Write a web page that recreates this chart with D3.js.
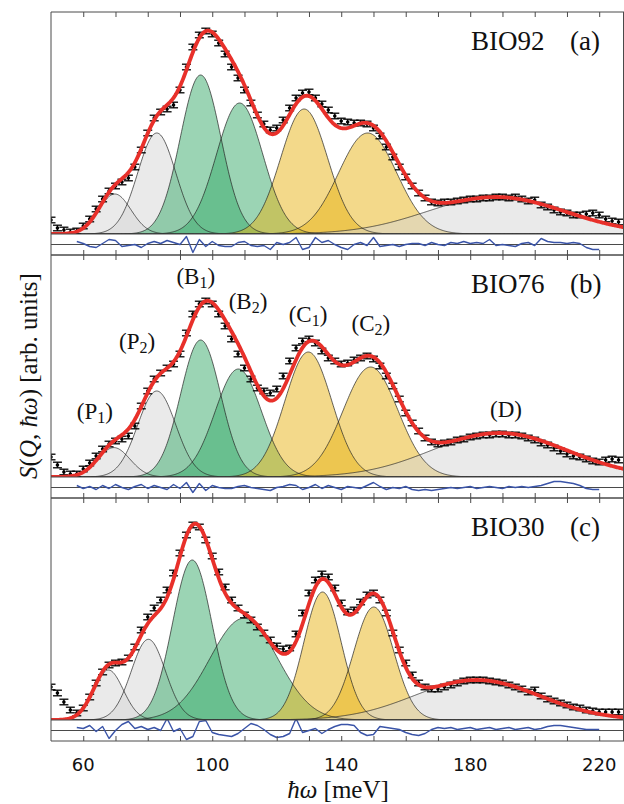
<!DOCTYPE html>
<html><head><meta charset="utf-8">
<script src="https://cdn.jsdelivr.net/npm/d3@7"></script>
<style>body{margin:0;background:#fff}</style>
</head><body><svg id="chart" width="624" height="804"></svg>
<script>
// ---------------- DATA ----------------
const energy = [50,52,54,56,58,60,62,64,66,68,70,72,74,76,78,80,82,84,86,88,90,92,94,96,98,100,102,104,106,108,110,112,114,116,118,120,122,124,126,128,130,132,134,136,138,140,142,144,146,148,150,152,154,156,158,160,162,164,166,168,170,172,174,176,178,180,182,184,186,188,190,192,194,196,198,200,202,204,206,208,210,212,214,216,218,220,222,224,226];

const intensityA = [14,6,4,2,3,8,15,25,35,43,
  48,52,56,67,84,101,116,122,125,129,
  144,167,187,199,203,200,191,180,167,156,
  144,131,119,110,104,106,114,126,136,141,
  142,136,130,124,118,113,112,111,111,110,
  106,98,87,77,67,57,48,41,36,32,
  31,32,32,33,34,35,35,36,36,37,
  37,36,37,35,33,34,29,27,24,22,
  21,19,19,20,21,19,15,13,12];
const intensityB = [20,12,5,3,3,8,14,21,28,33,
  36,38,41,51,71,86,98,104,109,113,
  123,144,163,173,176,173,163,151,138,123,
  109,98,89,86,84,88,101,116,129,136,
  138,134,126,119,116,113,114,117,119,121,
  118,111,101,91,78,64,54,46,39,35,
  33,34,35,37,38,40,41,42,42,43,
  43,42,42,41,39,37,34,32,29,26,
  23,21,20,18,16,15,17,18,17];
const intensityC = [33,27,18,10,7,12,23,37,48,55,
  57,58,62,73,90,103,112,120,130,147,
  167,185,195,193,180,164,148,133,120,112,
  105,100,93,87,80,74,71,72,86,107,
  127,140,146,143,132,117,108,110,118,125,
  127,120,107,87,70,57,45,37,33,31,
  31,33,35,37,39,40,40,40,39,38,
  37,35,33,31,28,30,24,21,19,17,
  15,13,12,10,9,8,8,8,8];
const errorBar = 2.8;

const residEnergy = [58,60,62,64,66,68,70,72,74,76,78,80,82,84,86,88,90,92,94,96,98,100,102,104,106,108,110,112,114,116,118,120,122,124,126,128,130,132,134,136,138,140,142,144,146,148,150,152,154,156,158,160,162,164,166,168,170,172,174,176,178,180,182,184,186,188,190,192,194,196,198,200,202,204,206,208,210,212,214,216,218,220];
const residualA = [3,1,-2,-3,1,5,4,-2,-1,0,
  -3,1,3,1,4,2,0,8,-8,5,
  -2,3,-1,-2,-2,2,3,-1,-2,-1,
  -5,2,0,2,7,-5,-3,7,2,4,
  0,-3,-5,0,2,-1,7,-2,-1,0,
  -2,0,1,1,-1,2,0,-1,2,1,
  3,1,2,1,5,-1,0,-1,-2,1,
  2,-1,6,3,2,2,1,2,1,-3,
  -5,-5];
const residualB = [2,-1,1,-2,2,-1,3,0,-2,1,
  3,-1,2,0,-2,3,-1,5,-5,4,
  -3,2,0,-1,-1,1,2,0,-1,-2,
  -3,0,1,3,2,-2,0,3,-1,2,
  0,-2,1,0,-1,2,5,1,-2,0,
  -1,1,-2,-3,-2,-3,-2,-1,0,-1,
  0,1,-1,0,1,0,-1,1,0,1,
  0,1,2,4,6,6,5,4,2,-1,
  -2,-2];
const residualC = [3,2,5,-1,4,-8,0,6,9,2,
  4,1,3,0,12,-1,2,-9,-6,9,
  10,-2,-4,-5,-6,-3,2,7,5,1,
  -4,-7,-6,-3,12,-2,0,2,-3,1,
  4,6,6,5,-2,-5,-4,4,3,2,
  1,-2,-4,-5,-3,1,3,2,3,1,
  2,3,1,2,3,1,2,3,1,2,
  3,1,2,4,5,5,4,3,2,1,
  1,1];

const componentNames = ["P1","P2","B1","B2","C1","C2","D"];
const componentKinds = ["gray","gray","green","green","yellow","yellow","gray"];
const centersA = [69.8, 82.8, 96.4, 108.5, 128.5, 148.2, 188];
const ampsA    = [40, 101, 159, 131, 125, 101, 37];
const widthsA  = [5.0, 5.9, 6.3, 7.2, 7.3, 9.0, 21.5];
const centersB = [69.5, 82.8, 96.4, 108.1, 129.8, 149.1, 189];
const ampsB    = [29.4, 86, 137, 108, 125, 110, 44];
const widthsB  = [5.0, 5.9, 6.2, 7.2, 7.3, 8.5, 21];
const centersC = [67.8, 80.2, 93.8, 109.8, 134.2, 150.1, 182];
const ampsC    = [50, 80.7, 160, 101.7, 128, 113, 40];
const widthsC  = [4.6, 5.3, 6.1, 10.5, 5.8, 6.2, 19.5];

const sampleNames = ["BIO92","BIO76","BIO30"];
const panelTags = ["(a)","(b)","(c)"];
const xTickLabels = [60,100,140,180,220];
const minorTicks = [60,70,80,90,100,110,120,130,140,150,160,170,180,190,200,210,220];

// label anchors (energy, intensity) for component names in panel (b)
const labelEnergy = [63.6, 76.7, 94.9, 111.1, 129.7, 149.2, 191.1];
const labelHeight = [58, 128, 193, 168, 155, 146, 60];

// ---------------- DRAWING ----------------
const panels = [
  {I:intensityA, R:residualA, c:centersA, a:ampsA, s:widthsA},
  {I:intensityB, R:residualB, c:centersB, a:ampsB, s:widthsB},
  {I:intensityC, R:residualC, c:centersC, a:ampsC, s:widthsC}
];
const svg = d3.select("#chart");
svg.append("rect").attr("width",624).attr("height",804).attr("fill","#fff");
const x = d3.scaleLinear().domain([50,228]).range([51,625]);
const panelTop = [12,255,498], mainH = 222, residH = 21;
const fillCol = {gray:"#d6d6d6", green:"#38aa6a", yellow:"#e8b416"};
const frameCol = "#4a4a4a";
const serif = "'Liberation Serif','Times New Roman',serif";
const grid = d3.range(50, 228.01, 0.25);

panels.forEach((p,i)=>{
  const top = panelTop[i], base = top+mainH, bot = base+residH;
  const y = d3.scaleLinear().domain([0,222]).range([base,top]);
  const yr = d3.scaleLinear().domain([-10.5,10.5]).range([bot,base]);
  const g = svg.append("g");
  const cid = "clipM"+i, rid = "clipR"+i;
  const defs = svg.append("defs");
  defs.append("clipPath").attr("id",cid).append("rect")
    .attr("x",51).attr("y",top).attr("width",574).attr("height",mainH);
  defs.append("clipPath").attr("id",rid).append("rect")
    .attr("x",51).attr("y",base).attr("width",574).attr("height",residH);
  const gm = g.append("g").attr("clip-path",`url(#${cid})`);
  const comps = p.c.map((c,k)=>({c, a:p.a[k], s:p.s[k], kind:componentKinds[k]}));
  const gauss = (cp,e)=>cp.a*Math.exp(-((e-cp.c)**2)/(2*cp.s*cp.s));
  comps.forEach(cp=>{
    gm.append("path").datum(grid)
      .attr("d", d3.area().x(e=>x(e)).y0(y(0)).y1(e=>y(gauss(cp,e))))
      .attr("fill", fillCol[cp.kind]).attr("fill-opacity",0.5).attr("stroke","none");
  });
  comps.forEach(cp=>{
    gm.append("path").datum(grid)
      .attr("d", d3.line().x(e=>x(e)).y(e=>y(gauss(cp,e))))
      .attr("fill","none").attr("stroke","#222").attr("stroke-width",0.7);
  });
  // data points with error bars
  const pts = energy.map((e,k)=>({e, v:p.I[k]}));
  const pg = gm.append("g").attr("stroke","#000").attr("stroke-width",1.3);
  pts.forEach(d=>{
    const cx = x(d.e), y1 = y(d.v+errorBar), y2 = y(d.v-errorBar);
    pg.append("line").attr("x1",cx).attr("x2",cx).attr("y1",y1).attr("y2",y2);
    pg.append("line").attr("x1",cx-4.5).attr("x2",cx+4.5).attr("y1",y1).attr("y2",y1);
    pg.append("line").attr("x1",cx-4.5).attr("x2",cx+4.5).attr("y1",y2).attr("y2",y2);
    pg.append("circle").attr("cx",cx).attr("cy",y(d.v)).attr("r",1.8).attr("fill","#000").attr("stroke","none");
  });
  // fit = sum of components
  gm.append("path").datum(grid)
    .attr("d", d3.line().x(e=>x(e)).y(e=>y(d3.sum(comps, cp=>gauss(cp,e)))))
    .attr("fill","none").attr("stroke","#e8302a").attr("stroke-width",3.8).attr("stroke-linejoin","round");
  // residual strip
  const gr = g.append("g").attr("clip-path",`url(#${rid})`);
  gr.append("line").attr("x1",51).attr("x2",625).attr("y1",yr(0)).attr("y2",yr(0))
    .attr("stroke",frameCol).attr("stroke-width",1);
  gr.append("path").datum(residEnergy.map((e,k)=>[e,p.R[k]]))
    .attr("d", d3.line().x(d=>x(d[0])).y(d=>yr(d[1])))
    .attr("fill","none").attr("stroke","#3a54a8").attr("stroke-width",1.4).attr("stroke-linejoin","round");
  // frame lines
  [top, base, bot].forEach(yy=>{
    g.append("line").attr("x1",51).attr("x2",625).attr("y1",yy).attr("y2",yy)
      .attr("stroke",frameCol).attr("stroke-width",1);
  });
  // ticks
  const at = g.append("g").attr("transform",`translate(0,${top})`)
    .call(d3.axisTop(x).tickValues(minorTicks).tickSize(-5).tickFormat(""));
  const ab = g.append("g").attr("transform",`translate(0,${bot})`)
    .call(d3.axisBottom(x).tickValues(minorTicks).tickSize(-5).tickFormat(""));
  [at,ab].forEach(a=>{ a.select(".domain").remove(); a.selectAll("line").attr("stroke",frameCol).attr("stroke-width",1); });
  // panel label
  g.append("text").attr("x",471).attr("y",top+38).attr("font-family",serif)
    .attr("font-size",27).attr("fill","#111").text(sampleNames[i]);
  g.append("text").attr("x",570).attr("y",top+38).attr("font-family",serif)
    .attr("font-size",27).attr("fill","#111").text(panelTags[i]);
  // component labels in panel (b)
  if(i===1){
    componentNames.forEach((nm,k)=>{
      const t = g.append("text").attr("x",x(labelEnergy[k])).attr("y",y(labelHeight[k]))
        .attr("text-anchor","middle").attr("font-family",serif).attr("font-size",23).attr("fill","#111");
      if(nm.length>1){
        t.append("tspan").text("("+nm[0]);
        t.append("tspan").attr("font-size",16).attr("dy",4).text(nm.slice(1));
        t.append("tspan").attr("dy",-4).text(")");
      } else {
        t.text("("+nm+")");
      }
    });
  }
});
// outer frame verticals
svg.append("line").attr("x1",51).attr("x2",51).attr("y1",12).attr("y2",741).attr("stroke",frameCol).attr("stroke-width",1);
svg.append("line").attr("x1",623.5).attr("x2",623.5).attr("y1",12).attr("y2",741).attr("stroke",frameCol).attr("stroke-width",1);

// x tick labels
svg.append("g").selectAll("text").data(xTickLabels).join("text")
  .attr("x",d=>x(d)).attr("y",771).attr("text-anchor","middle")
  .attr("font-family","'DejaVu Sans',sans-serif").attr("font-size",18).attr("fill","#111").text(d=>d);

// axis titles
const xl = svg.append("text").attr("x",338).attr("y",798).attr("text-anchor","middle")
  .attr("font-family",serif).attr("font-size",25).attr("fill","#111");
xl.append("tspan").attr("font-style","italic").text("ħω");
xl.append("tspan").text(" [meV]");

const yl = svg.append("text").attr("transform","translate(37,376) rotate(-90)").attr("text-anchor","middle")
  .attr("font-family",serif).attr("font-size",25).attr("fill","#111");
yl.append("tspan").attr("font-style","italic").text("S");
yl.append("tspan").text("(");
yl.append("tspan").attr("font-style","italic").text("Q");
yl.append("tspan").text(", ");
yl.append("tspan").attr("font-style","italic").text("ħω");
yl.append("tspan").text(") [arb. units]");
</script></body></html>
